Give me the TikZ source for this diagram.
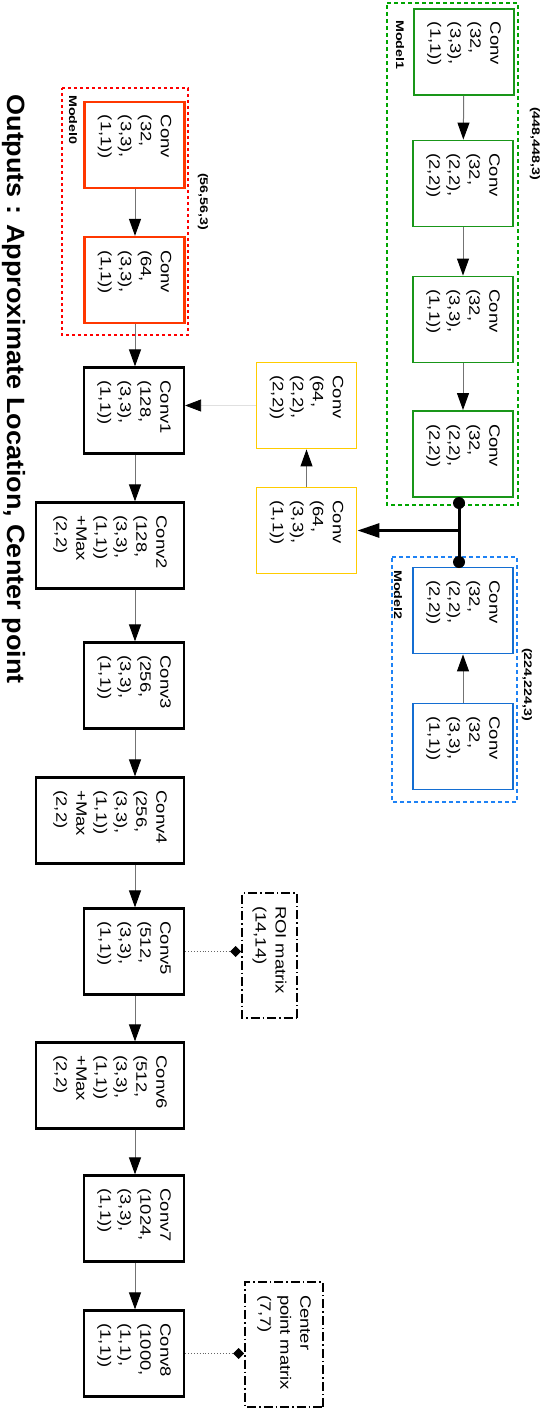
\documentclass[tikz,border=0pt]{standalone}
\usepackage{fontspec}
\setmainfont{Liberation Sans}
\newfontfamily\boxfont[FakeStretch=1.23]{Liberation Sans}
\newfontfamily\tagfont[FakeStretch=1.3]{Liberation Sans}
\newfontfamily\titlefont[FakeStretch=1.08]{Liberation Sans}
\usepackage{tikz}
\usetikzlibrary{arrows.meta}

\definecolor{mgreen}{RGB}{25,150,25}
\definecolor{mgreendash}{RGB}{0,165,0}
\definecolor{mred}{RGB}{255,0,0}
\definecolor{mredbox}{RGB}{255,55,0}
\definecolor{myellow}{RGB}{255,204,0}
\definecolor{mblue}{RGB}{20,110,210}
\definecolor{mbluedash}{RGB}{30,130,245}

\begin{document}
\begin{tikzpicture}[x=1pt, y=1pt,
    layer/.style={draw, rectangle, line width=1.9pt, minimum width=86pt, minimum height=100pt,
        text width=60pt, align=left, inner sep=0pt, font=\boxfont\fontsize{15}{20}\selectfont},
    wide/.style={minimum height=148pt},
    mainlayer/.style={layer, draw=black, line width=2.2pt},
    outbox/.style={layer, line width=1.7pt, dash pattern=on 9pt off 3pt on 1.5pt off 3pt,
        minimum width=125pt, text width=99pt},
    tag/.style={anchor=west, inner sep=0pt, font=\tagfont\bfseries\fontsize{11}{13}\selectfont},
    flow/.style={draw=black!55, line width=1pt, -{Triangle[length=17pt,width=12pt,color=black]}},
    feed/.style={draw=black!12, line width=0.8pt, -{Triangle[length=16pt,width=12pt,color=black]}},
    trunk/.style={line width=3pt},
    probe/.style={draw=black!60, dotted, line width=0.9pt, -{Diamond[length=11pt,width=11pt,color=black]}}]

    \useasboundingbox (0,0) rectangle (542,-1410);

    \begin{scope}[rotate=-90, transform shape]
        % Model1
        \draw[draw=mgreendash, line width=1.9pt, dash pattern=on 4pt off 3pt] (3,387) rectangle (505,518);
        \node[tag] (m1tag) at (20,400) {Model1};
        \node[tag] (m1size) at (107,535) {(448,448,3)};
        \node[layer, draw=mgreen] (m1a) at (52,464) {Conv\\(32,\\(3,3),\\(1,1))};
        \node[layer, draw=mgreen] (m1b) at (183.5,463) {Conv\\(32,\\(2,2),\\(2,2))};
        \node[layer, draw=mgreen] (m1c) at (319.5,463) {Conv\\(32,\\(3,3),\\(1,1))};
        \node[layer, draw=mgreen] (m1d) at (454,463) {Conv\\(32,\\(2,2),\\(2,2))};

        % Model2
        \draw[draw=mbluedash, line width=1.9pt, dash pattern=on 4pt off 3pt] (557,392) rectangle (802,517);
        \node[tag] (m2tag) at (570,398) {Model2};
        \node[tag] (m2size) at (648,527) {(224,224,3)};
        \node[layer, draw=mblue] (m2a) at (610.5,463) {Conv\\(32,\\(2,2),\\(2,2))};
        \node[layer, draw=mblue] (m2b) at (746.5,463) {Conv\\(32,\\(3,3),\\(1,1))};

        % merge
        \node[layer, draw=myellow] (y1) at (405.5,306.5) {Conv\\(64,\\(2,2),\\(2,2))};
        \node[layer, draw=myellow] (y2) at (530.5,306.5) {Conv\\(64,\\(3,3),\\(1,1))};

        % Model0
        \draw[draw=mred, line width=2pt, dash pattern=on 3pt off 3pt] (88,62) rectangle (335,188);
        \node[tag] (m0tag) at (95,73) {Model0};
        \node[tag] (m0size) at (173,203) {(56,56,3)};
        \node[layer, draw=mredbox, line width=2.2pt] (m0a) at (145,134.5) {Conv\\(32,\\(3,3),\\(1,1))};
        \node[layer, draw=mredbox, line width=2.2pt] (m0b) at (280,134.5) {Conv\\(64,\\(3,3),\\(1,1))};

        % main
        \node[mainlayer] (conv1) at (410.5,134) {Conv1\\(128,\\(3,3),\\(1,1))};
        \node[mainlayer, wide] (conv2) at (545.5,110) {Conv2\\(128,\\(3,3),\\(1,1))\\+Max\\(2,2)};
        \node[mainlayer] (conv3) at (685.5,134) {Conv3\\(256,\\(3,3),\\(1,1))};
        \node[mainlayer, wide] (conv4) at (820.5,110) {Conv4\\(256,\\(3,3),\\(1,1))\\+Max\\(2,2)};
        \node[mainlayer] (conv5) at (951.5,134) {Conv5\\(512,\\(3,3),\\(1,1))};
        \node[mainlayer, wide] (conv6) at (1085.5,110) {Conv6\\(512,\\(3,3),\\(1,1))\\+Max\\(2,2)};
        \node[mainlayer] (conv7) at (1218.5,134) {Conv7\\(1024,\\(3,3),\\(1,1))};
        \node[mainlayer] (conv8) at (1353.5,134) {Conv8\\(1000,\\(1,1),\\(1,1))};

        \node[outbox, minimum height=55pt] (roi) at (955.5,269.5) {ROI matrix\\(14,14)};
        \node[outbox, minimum height=78pt] (cpm) at (1344.5,284) {Center\\point matrix\\(7,7)};

        \node[font=\titlefont\bfseries\fontsize{25}{30}\selectfont, inner sep=0pt] (title) at (389,14)
            {Outputs : Approximate Location, Center point};

        \coordinate (spine) at (0,135);
        \coordinate (j1) at (503,459);
        \coordinate (j2) at (562,459);
    \end{scope}

    \foreach \a/\b in {m1a/m1b, m1b/m1c, m1c/m1d}
        \draw[flow] (\a) -- (\b);
    \draw[flow] (m2b) -- (m2a);
    \draw[flow] (y2) -- (y1);
    \draw[feed] (y1) -- (y1 -| conv1.north);

    \foreach \a/\b in {m0a/m0b, m0b/conv1, conv1/conv2, conv2/conv3, conv3/conv4, conv4/conv5, conv5/conv6, conv6/conv7, conv7/conv8}
        \draw[flow] (\a.east -| spine) -- (\b.west -| spine);

    \draw[trunk] (j1) -- (j2);
    \fill (j1) circle (6pt);
    \fill (j2) circle (6pt);
    \draw[trunk, -{Triangle[length=22pt,width=14pt]}] (j1 |- y2) -- (y2);

    \draw[probe] (conv5.north) -- (conv5.north -| roi.south);
    \draw[probe] (conv8.north) -- (conv8.north -| cpm.south);
\end{tikzpicture}
\end{document}
